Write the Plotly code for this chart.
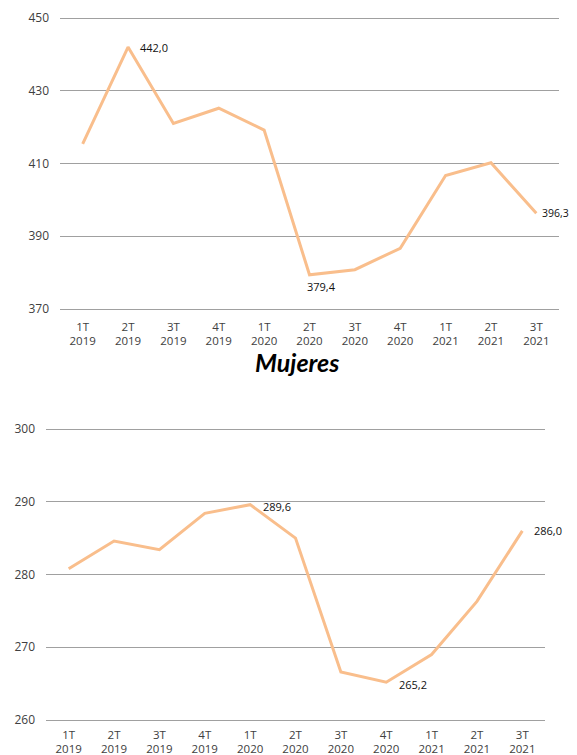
import plotly.graph_objects as go

categories = ["1T<br>2019", "2T<br>2019", "3T<br>2019", "4T<br>2019", "1T<br>2020", "2T<br>2020",
              "3T<br>2020", "4T<br>2020", "1T<br>2021", "2T<br>2021", "3T<br>2021"]
serie_superior = [415.4, 442.0, 421.0, 425.2, 419.2, 379.4, 380.8, 386.7, 406.7, 410.2, 396.3]
serie_mujeres = [280.8, 284.6, 283.4, 288.4, 289.6, 285.0, 266.6, 265.2, 269.0, 276.3, 286.0]
etiquetas_superior = [1, 5, 10]
etiquetas_mujeres = [4, 7, 10]
titulo = "Mujeres"

LINE = "#F9BE8C"
GRID = "#A0A0A0"
FONT = "Open Sans, Noto Sans, sans-serif"
W, H = 577, 755
OFF = 8  # page body margin


def px_x(x):
    return (x - OFF) / W


def px_y(y):
    return 1 - (y - OFF) / H


fig = go.Figure()
fig.add_trace(go.Scatter(x=categories, y=serie_superior, mode="lines",
                         line=dict(color=LINE, width=3), xaxis="x", yaxis="y",
                         showlegend=False, hoverinfo="skip"))
fig.add_trace(go.Scatter(x=categories, y=serie_mujeres, mode="lines",
                         line=dict(color=LINE, width=3), xaxis="x2", yaxis="y2",
                         showlegend=False, hoverinfo="skip"))


def fmt(v):
    return f"{v:.1f}".replace(".", ",")


ann = []
shifts_top = {1: (10, 0, 11), 5: (-5, -12, 11), 10: (4, 0, 10.5)}
for i in etiquetas_superior:
    xs, ys, fs = shifts_top[i]
    ann.append(dict(x=categories[i], y=serie_superior[i], xref="x", yref="y",
                    text=fmt(serie_superior[i]), showarrow=False, xanchor="left",
                    xshift=xs, yshift=ys, font=dict(size=fs, color="#111", family=FONT)))
shifts_bot = {4: (11, -2, 11), 7: (11, -2, 11), 10: (10, 0, 11)}
for i in etiquetas_mujeres:
    xs, ys, fs = shifts_bot[i]
    ann.append(dict(x=categories[i], y=serie_mujeres[i], xref="x2", yref="y2",
                    text=fmt(serie_mujeres[i]), showarrow=False, xanchor="left",
                    xshift=xs, yshift=ys, font=dict(size=fs, color="#111", family=FONT)))
ann.append(dict(x=px_x(297), y=px_y(362), xref="paper", yref="paper", text="<b><i>" + titulo + "</i></b>",
                showarrow=False, xanchor="center", yanchor="middle",
                font=dict(size=25, color="#000", family="Lato, Open Sans, sans-serif", weight=900)))

axis_x = dict(type="category", showgrid=False, showline=False, zeroline=False, ticks="",
              automargin=False, ticklabelstandoff=7,
              tickfont=dict(size=11.5, color="#404040", family=FONT), range=[-0.5, 10.5])
axis_y = dict(showgrid=True, gridcolor=GRID, gridwidth=1, zeroline=False, showline=False,
              automargin=False, ticks="", tickfont=dict(size=12, color="#404040", family=FONT),
              ticklabelstandoff=10)

d_top = 2 / 3.6375
d_bot = 2 / 7.275
fig.update_layout(
    template="none",
    width=W, height=H, margin=dict(l=0, r=0, t=0, b=0, autoexpand=False),
    paper_bgcolor="white", plot_bgcolor="white",
    xaxis=dict(axis_x, domain=[px_x(60), px_x(559)], anchor="y"),
    yaxis=dict(axis_y, domain=[px_y(311), px_y(16)], range=[370 - d_top, 450 + d_top],
               tickvals=[370, 390, 410, 430, 450], anchor="x"),
    xaxis2=dict(axis_x, domain=[px_x(46), px_x(545)], anchor="y2", ticklabelstandoff=4),
    yaxis2=dict(axis_y, domain=[px_y(722), px_y(427)], range=[260 - d_bot, 300 + d_bot],
                tickvals=[260, 270, 280, 290, 300], anchor="x2"),
    annotations=ann,
)

fig.write_html("out.html")
